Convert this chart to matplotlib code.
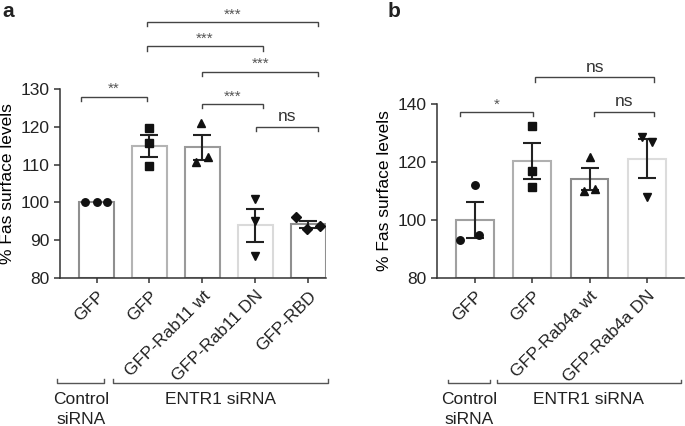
import numpy as np
import matplotlib as mpl
import matplotlib.pyplot as plt
from matplotlib.transforms import blended_transform_factory

mpl.rcParams.update(
    {
        "font.family": ["Liberation Sans", "DejaVu Sans"],
        "font.size": 12,
        "axes.linewidth": 1.1,
        "axes.edgecolor": "#333333",
        "axes.spines.top": False,
        "axes.spines.right": False,
        "xtick.major.width": 1.1,
        "ytick.major.width": 1.1,
        "xtick.major.size": 3.5,
        "ytick.major.size": 4,
        "xtick.color": "#333333",
        "ytick.color": "#333333",
        "xtick.labelcolor": "#222222",
        "ytick.labelcolor": "#222222",
        "text.color": "#222222",
    }
)

# ---------------------------------------------------------------- data (a)
A_LABELS = ["GFP", "GFP", "GFP-Rab11 wt", "GFP-Rab11 DN", "GFP-RBD"]
A_POINTS = [
    [100.0, 100.0, 100.0],
    [119.6, 115.6, 109.7],
    [121.1, 112.1, 110.6],
    [100.9, 95.0, 85.8],
    [96.0, 93.0, 93.6],
]
A_JITTER = [
    [-0.22, 0.0, 0.2],
    [0.0, 0.0, 0.0],
    [-0.02, 0.1, -0.12],
    [0.0, 0.0, 0.0],
    [-0.24, -0.03, 0.22],
]
A_MARKERS = ["o", "s", "^", "v", "D"]
A_EDGES = ["#8f8f8f", "#b4b4b4", "#9a9a9a", "#dadada", "#8f8f8f"]
# (left, right, y, text)
A_SIG = [
    (-0.29, 0.95, 128.0, "**"),
    (1.99, 3.14, 126.1, "***"),
    (3.02, 4.19, 120.0, "ns"),
    (1.99, 4.19, 134.6, "***"),
    (0.95, 3.14, 141.3, "***"),
    (0.95, 4.19, 147.8, "***"),
]
A_GROUPS = [(-0.74, 0.15, "Control\nsiRNA"), (0.31, 4.37, "ENTR1 siRNA")]

# ---------------------------------------------------------------- data (b)
B_LABELS = ["GFP", "GFP", "GFP-Rab4a wt", "GFP-Rab4a DN"]
B_POINTS = [
    [112.2, 93.0, 94.8],
    [132.5, 117.0, 111.5],
    [121.9, 110.0, 110.8],
    [128.8, 127.1, 107.8],
]
B_JITTER = [
    [0.0, -0.26, 0.075],
    [0.0, 0.0, 0.0],
    [0.0, -0.1, 0.09],
    [-0.09, 0.1, 0.0],
]
B_MARKERS = ["o", "s", "^", "v"]
B_EDGES = ["#a0a0a0", "#b0b0b0", "#8c8c8c", "#dcdcdc"]
B_SIG = [
    (-0.27, 1.01, 137.4, "*"),
    (2.07, 3.13, 137.4, "ns"),
    (1.05, 3.13, 149.3, "ns"),
]
B_GROUPS = [(-0.48, 0.27, "Control\nsiRNA"), (0.38, 3.6, "ENTR1 siRNA")]


def bar_panel(ax, labels, points, jitter, markers, edges, ylim, yticks):
    x = np.arange(len(labels))
    pts = [np.asarray(p) for p in points]
    means = np.array([p.mean() for p in pts])
    sems = np.array([p.std(ddof=1) / np.sqrt(len(p)) for p in pts])
    ax.bar(x, means - ylim[0], bottom=ylim[0], width=0.66, color="white",
           edgecolor=edges, linewidth=1.5, zorder=1)
    for i in range(len(x)):
        if sems[i] > 0:
            ax.errorbar(x[i], means[i], yerr=sems[i], color="#222222", lw=1.5,
                        capsize=6.5, capthick=1.5, zorder=3)
        ax.plot(x[i] + np.asarray(jitter[i]), pts[i], ls="none", marker=markers[i],
                ms=5.4 if markers[i] != "D" else 4.6, color="#111111", zorder=4,
                clip_on=False)
    ax.set_ylim(*ylim)
    ax.set_yticks(yticks)
    ax.set_xticks(x)
    ax.set_xticklabels(labels, rotation=45, ha="right", rotation_mode="anchor",
                       fontsize=12.5)
    ax.tick_params(axis="x", pad=4)
    ax.tick_params(axis="y", labelsize=12.5)
    ax.set_ylabel("% Fas surface levels", labelpad=4, fontsize=12.5)


def sig_brackets(ax, sig, tick):
    for l, r, y, t in sig:
        ax.plot([l, l, r, r], [y - tick, y, y, y - tick], color="#444444", lw=1.0,
                clip_on=False, solid_joinstyle="miter")
        if t == "ns":
            ax.text((l + r) / 2, y + tick * 0.7, t, ha="center", va="bottom",
                    fontsize=12.5, color="#333333")
        else:
            ax.text((l + r) / 2, y + tick * 0.1, t, ha="center", va="bottom",
                    fontsize=11, color="#555555")


def group_brackets(ax, groups, y, ty):
    tr = blended_transform_factory(ax.transData, ax.transAxes)
    for l, r, t in groups:
        ax.plot([l, l, r, r], [y + 0.02, y, y, y + 0.02], color="#555555", lw=1.0,
                transform=tr, clip_on=False)
        ax.text((l + r) / 2, ty, t, transform=tr, ha="center", va="top",
                fontsize=12.5, linespacing=1.4)


fig = plt.figure(figsize=(6.85, 4.26), dpi=100)

ax_a = fig.add_axes([0.0876, 0.348, 0.388, 0.443])
bar_panel(ax_a, A_LABELS, A_POINTS, A_JITTER, A_MARKERS, A_EDGES,
          (80, 130), [80, 90, 100, 110, 120, 130])
ax_a.set_xlim(-0.69, 4.33)
sig_brackets(ax_a, A_SIG, 1.1)
group_brackets(ax_a, A_GROUPS, -0.558, -0.605)

ax_b = fig.add_axes([0.6375, 0.348, 0.361, 0.407])
bar_panel(ax_b, B_LABELS, B_POINTS, B_JITTER, B_MARKERS, B_EDGES,
          (80, 140), [80, 100, 120, 140])
ax_b.set_xlim(-0.67, 3.65)
sig_brackets(ax_b, B_SIG, 1.4)
group_brackets(ax_b, B_GROUPS, -0.607, -0.658)

fig.text(0.003, 0.995, "a", fontsize=15, fontweight="bold", va="top", ha="left")
fig.text(0.566, 0.995, "b", fontsize=15, fontweight="bold", va="top", ha="left")

fig.savefig("out.png", dpi=100)
